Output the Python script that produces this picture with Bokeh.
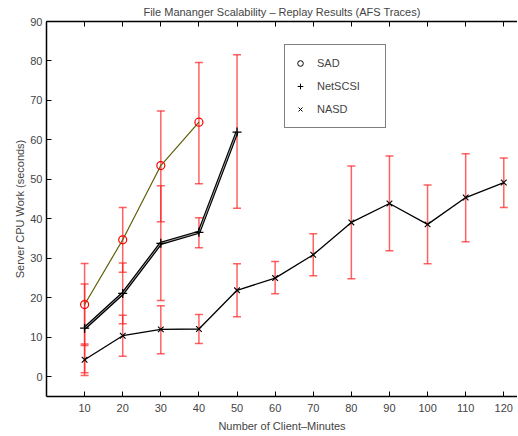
from bokeh.plotting import figure
from bokeh.models import (ColumnDataSource, Whisker, TeeHead, FixedTicker, LinearAxis,
                          Legend, LegendItem)
from bokeh.embed import file_html
from bokeh.resources import INLINE

# ---- data ----
x_ticks = [10, 20, 30, 40, 50, 60, 70, 80, 90, 100, 110, 120]
y_ticks = [0, 10, 20, 30, 40, 50, 60, 70, 80, 90]

sad_x = [10, 20, 30, 40]
sad_y = [18.3, 34.7, 53.5, 64.5]
sad_lo = [7.9, 26.5, 39.3, 48.9]
sad_hi = [28.7, 42.9, 67.3, 79.6]

net_x = [10, 20, 30, 40, 50]
net_y = [12.3, 21.1, 33.8, 36.6, 62.0]
net_lo = [1.0, 13.4, 19.3, 32.7, 42.7]
net_hi = [23.5, 28.8, 48.4, 40.3, 81.6]

nasd_x = [10, 20, 30, 40, 50, 60, 70, 80, 90, 100, 110, 120]
nasd_y = [4.3, 10.4, 12.0, 12.1, 21.9, 25.0, 30.9, 39.1, 43.9, 38.6, 45.4, 49.2]
nasd_lo = [0.3, 5.2, 5.8, 8.4, 15.2, 21.0, 25.6, 24.8, 31.9, 28.6, 34.2, 42.9]
nasd_hi = [8.3, 15.6, 18.0, 15.8, 28.6, 29.2, 36.2, 53.4, 55.9, 48.6, 56.5, 55.4]

FONT = "Liberation Sans"
NAN = float("nan")

p = figure(width=517, height=434, x_range=(0, 123.6), y_range=(-5, 90),
           output_backend="svg", toolbar_location=None,
           min_border_left=46, min_border_right=0, min_border_top=21, min_border_bottom=37)
p.outline_line_color = None
p.xgrid.visible = False
p.ygrid.visible = False

p.title.text = "File Mananger Scalability \u2013 Replay Results (AFS Traces)"
p.title.text_font = FONT
p.title.text_font_size = "11px"
p.title.text_font_style = "normal"
p.title.align = "center"
p.title.offset = 0
p.title.standoff = 7

for ax in (p.xaxis[0], p.yaxis[0]):
    ax.major_label_text_font = FONT
    ax.major_label_text_font_size = "11px"
    ax.axis_label_text_font = FONT
    ax.axis_label_text_font_size = "11px"
    ax.axis_label_text_font_style = "normal"
    ax.axis_line_width = 1.5
    ax.major_tick_in = 5
    ax.major_tick_out = 0
    ax.minor_tick_in = 0
    ax.minor_tick_out = 0

p.xaxis[0].major_label_standoff = 7
p.xaxis[0].axis_label_standoff = 5
p.yaxis[0].major_label_standoff = 4
p.yaxis[0].axis_label_standoff = 1

p.xaxis[0].ticker = FixedTicker(ticks=x_ticks)
p.yaxis[0].ticker = FixedTicker(ticks=y_ticks)
p.xaxis[0].axis_label = "Number of Client\u2013Minutes"
p.yaxis[0].axis_label = "Server CPU Work (seconds)"

top = LinearAxis(ticker=FixedTicker(ticks=x_ticks), major_label_text_font_size="1px",
                 major_label_text_color=None,
                 major_label_standoff=0, major_tick_in=5, major_tick_out=0,
                 minor_tick_in=0, minor_tick_out=0, axis_line_width=1.5)
p.add_layout(top, "above")

# ---- error bars ----
ERR = "#ff2020"
for xs, lo, hi in ((sad_x, sad_lo, sad_hi), (net_x, net_lo, net_hi), (nasd_x, nasd_lo, nasd_hi)):
    src = ColumnDataSource(dict(x=xs, lo=lo, hi=hi))
    w = Whisker(base="x", lower="lo", upper="hi", source=src,
                line_color=ERR, line_alpha=0.7, line_width=1.5,
                upper_head=TeeHead(size=8, line_color=ERR, line_alpha=0.7, line_width=1.5),
                lower_head=TeeHead(size=8, line_color=ERR, line_alpha=0.7, line_width=1.5))
    p.add_layout(w)

# ---- lines & markers ----
p.line(sad_x, sad_y, line_color="#5f5f05", line_width=1.2)
p.scatter(sad_x, sad_y, marker="circle", size=8, line_color="red", fill_color=None, line_width=1.2)

p.line(net_x, net_y, line_color="black", line_width=3.2)
p.line(net_x, net_y, line_color="#a0a0a0", line_width=1)
p.scatter(net_x, net_y, marker="cross", size=9, line_color="black", line_width=1.3)

p.line(nasd_x, nasd_y, line_color="black", line_width=1.3)
p.scatter(nasd_x, nasd_y, marker="x", size=8, line_color="black", line_width=1.1)

# ---- legend (marker only) ----
r_sad = p.scatter([NAN], [NAN], marker="circle", size=6, line_color="black", fill_color=None)
r_net = p.scatter([NAN], [NAN], marker="cross", size=7, line_color="black")
r_nasd = p.scatter([NAN], [NAN], marker="x", size=6, line_color="black")
legend = Legend(items=[LegendItem(label="SAD", renderers=[r_sad]),
                       LegendItem(label="NetSCSI", renderers=[r_net]),
                       LegendItem(label="NASD", renderers=[r_nasd])],
                location=(238, 268), padding=8, spacing=3, margin=0,
                glyph_width=14, glyph_height=20, label_height=20, label_width=60,
                label_standoff=10, label_text_font=FONT, label_text_font_size="11px",
                border_line_color="black", border_line_width=1, background_fill_alpha=1)
p.add_layout(legend, "center")

open("out.html", "w").write(file_html(p, INLINE))
